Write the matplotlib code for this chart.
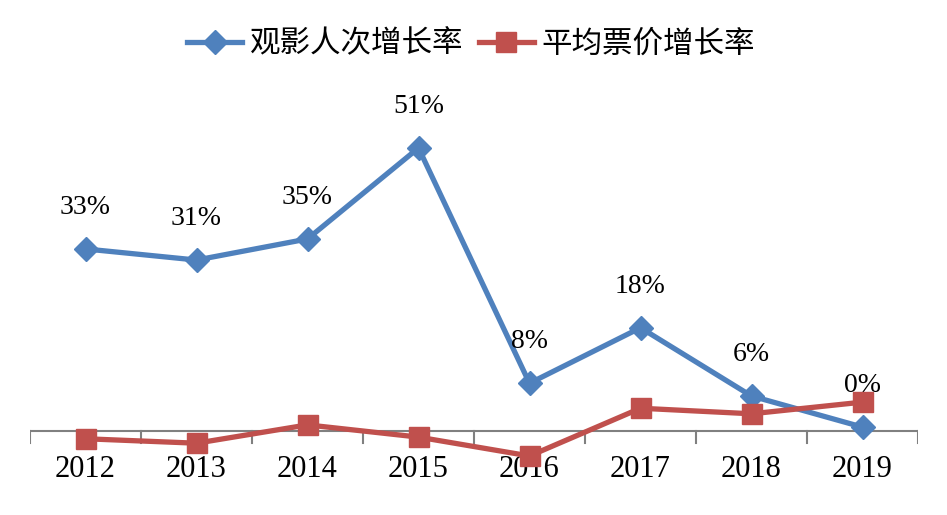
import numpy as np
import matplotlib
matplotlib.use("Agg")
import matplotlib.pyplot as plt

plt.rcParams['font.family'] = ['Liberation Serif', 'Noto Sans CJK SC']

years = ['2012', '2013', '2014', '2015', '2016', '2017', '2018', '2019']
audience_growth = [32.8, 30.8, 34.6, 51.0, 8.6, 18.6, 6.3, 0.7]
audience_labels = ['33%', '31%', '35%', '51%', '8%', '18%', '6%', '0%']
price_growth = [-1.4, -2.2, 1.1, -1.1, -4.5, 4.1, 3.1, 5.2]

blue = '#4F81BD'
red = '#C0504D'

fig = plt.figure(figsize=(9.47, 5.15), dpi=100)
W, H = 947, 515
ax = fig.add_axes([30 / W, 1 - 480 / H, 888 / W, 390 / H])

x = np.arange(len(years))
ax.plot(x, audience_growth, color=blue, lw=3.8, marker='D', ms=12,
        label='观影人次增长率', zorder=3)
ax.plot(x, price_growth, color=red, lw=3.8, marker='s', ms=14,
        label='平均票价增长率', zorder=4)

# labels au-dessus des points bleus
for xi, yi, txt in zip(x, audience_growth, audience_labels):
    ax.annotate(txt, (xi, yi), xytext=(0, 30), textcoords='offset points',
                ha='center', va='center', fontsize=20)

ax.set_xlim(-0.5, 7.5)
ax.set_ylim(-8.83, 61.44)

for s in ['top', 'right', 'left', 'bottom']:
    ax.spines[s].set_visible(False)
ax.axhline(0, color='#808080', lw=1.5, zorder=1)

ax.set_yticks([])
ax.set_xticks([])
# annees sous l'axe
for xi, yr in zip(x, years):
    ax.text(xi, -7.0, yr, ha='center', va='center', fontsize=22)
for b in np.arange(-0.5, 8, 1):
    ax.plot([b, b], [0, -2.1], color='#808080', lw=1.5, zorder=1)

fig.legend(loc='center', bbox_to_anchor=(471 / W, 1 - 45 / H), ncol=2,
           frameon=False, fontsize=22, handlelength=1.8, handletextpad=0.25,
           columnspacing=0.5)

plt.savefig('out.png', dpi=100)
